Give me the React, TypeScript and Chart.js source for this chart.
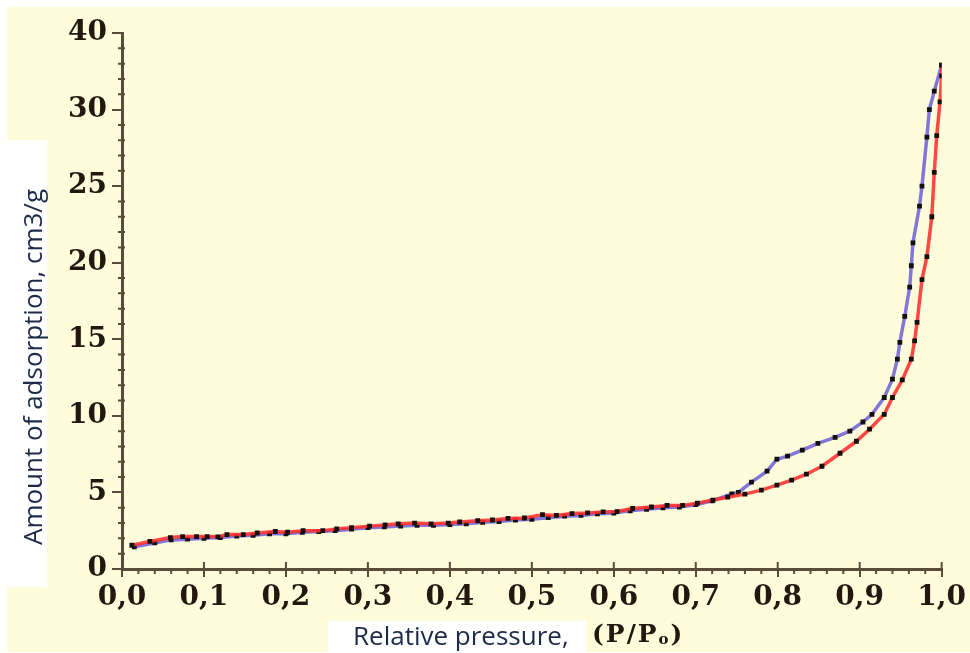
import React, { useEffect, useRef } from "react";
import { Chart, registerables } from "chart.js";

Chart.register(...registerables);

// ---- data ----
const xTickLabels = ["0,0", "0,1", "0,2", "0,3", "0,4", "0,5", "0,6", "0,7", "0,8", "0,9", "1,0"];
const yTickLabels = ["0", "5", "10", "15", "20", "25", "30", "40"];

// Adsorption branch (red)
const adsP = [
  0.012, 0.034, 0.059, 0.074, 0.091, 0.104, 0.117, 0.128, 0.148, 0.165, 0.187, 0.202, 0.221, 0.245,
  0.262, 0.28, 0.302, 0.321, 0.337, 0.357, 0.377, 0.398, 0.412, 0.434, 0.452, 0.471, 0.491, 0.513,
  0.53, 0.549, 0.568, 0.587, 0.604, 0.623, 0.646, 0.665, 0.684, 0.702, 0.721, 0.739, 0.76, 0.78,
  0.799, 0.817, 0.835, 0.854, 0.876, 0.896, 0.912, 0.93, 0.94, 0.952, 0.963, 0.967, 0.97, 0.976,
  0.982, 0.988, 0.991, 0.994, 0.998, 1.0, 1.0,
];
const adsV = [
  1.55, 1.8, 2.05, 2.12, 2.12, 2.12, 2.1, 2.25, 2.25, 2.35, 2.45, 2.4, 2.5, 2.5,
  2.62, 2.7, 2.8, 2.88, 2.95, 3.0, 2.95, 3.0, 3.07, 3.15, 3.2, 3.3, 3.33, 3.55,
  3.5, 3.62, 3.66, 3.73, 3.75, 3.95, 4.05, 4.15, 4.15, 4.3, 4.5, 4.69, 4.89, 5.15,
  5.48, 5.8, 6.19, 6.71, 7.56, 8.34, 9.13, 10.1, 11.2, 12.35, 13.7, 14.9, 16.1, 18.9,
  20.4, 23.0, 25.9, 28.3, 30.5, 32.2, 32.9,
];

// Desorption branch (blue)
const desP = [
  1.0, 0.991, 0.985, 0.982, 0.976, 0.973, 0.965, 0.963, 0.961, 0.955, 0.949, 0.946, 0.94, 0.93,
  0.915, 0.904, 0.888, 0.87, 0.849, 0.83, 0.812, 0.799, 0.787, 0.768, 0.752, 0.744, 0.72, 0.7,
  0.68, 0.66, 0.64, 0.62, 0.6, 0.58, 0.56, 0.54, 0.52, 0.5, 0.48, 0.46, 0.44, 0.42, 0.4, 0.38,
  0.36, 0.34, 0.32, 0.3, 0.28, 0.26, 0.24, 0.22, 0.2, 0.18, 0.16, 0.14, 0.12, 0.1, 0.08, 0.06,
  0.04, 0.015,
];
const desV = [
  32.9, 31.2, 30.0, 28.2, 25.0, 23.7, 21.3, 19.8, 18.4, 16.5, 14.8, 13.7, 12.4, 11.2,
  10.1, 9.6, 9.0, 8.6, 8.2, 7.76, 7.37, 7.17, 6.39, 5.67, 5.0, 4.9, 4.45, 4.2,
  4.05, 4.0, 3.9, 3.8, 3.65, 3.6, 3.5, 3.45, 3.35, 3.25, 3.2, 3.1, 3.05, 2.95, 2.9, 2.85,
  2.85, 2.8, 2.75, 2.7, 2.6, 2.5, 2.45, 2.4, 2.3, 2.3, 2.2, 2.15, 2.05, 2.0, 1.95, 1.9,
  1.7, 1.45,
];

const AXIS_COLOR = "#5b4b3b";
const LABEL_COLOR = "#24170f";

const minorTicks = {
  id: "minorTicks",
  afterDraw(chart: any) {
    const { ctx } = chart;
    const x = chart.scales.x;
    const y = chart.scales.y;
    const yAxisPx = y.getPixelForValue(0);
    const xAxisPx = x.getPixelForValue(0);
    ctx.save();
    ctx.strokeStyle = AXIS_COLOR;
    ctx.lineWidth = 2;
    ctx.beginPath();
    for (let i = 1; i <= 50; i++) {
      const px = x.getPixelForValue(i * 0.02);
      if (i % 5 === 0) {
        ctx.moveTo(px, yAxisPx - 7);
        ctx.lineTo(px, yAxisPx);
      } else {
        ctx.moveTo(px, yAxisPx - 1);
        ctx.lineTo(px, yAxisPx + 5);
      }
    }
    for (let v = 1; v <= 35; v++) {
      if (v % 5 === 0) continue;
      const py = y.getPixelForValue(v);
      ctx.moveTo(xAxisPx - 4, py);
      ctx.lineTo(xAxisPx + 3, py);
    }
    ctx.stroke();
    ctx.restore();
  },
};

export default function App() {
  const canvasRef = useRef<HTMLCanvasElement | null>(null);

  useEffect(() => {
    document.body.style.margin = "0";
    const canvas = canvasRef.current;
    if (!canvas) return;
    const ads = adsP.map((p, i) => ({ x: p, y: adsV[i] }));
    const des = desP.map((p, i) => ({ x: p, y: desV[i] }));
    const chart = new Chart(canvas, {
      type: "scatter",
      data: {
        datasets: [
          {
            label: "Adsorption",
            data: ads,
            showLine: true,
            borderColor: "rgba(255,45,45,0.88)",
            borderWidth: 3.5,
            pointStyle: "rect",
            pointRadius: 3.4,
            pointBackgroundColor: "#151010",
            pointBorderColor: "#151010",
            pointBorderWidth: 0,
            tension: 0,
          },
          {
            label: "Desorption",
            data: des,
            showLine: true,
            borderColor: "rgba(110,100,215,0.88)",
            borderWidth: 3.5,
            pointStyle: "rect",
            pointRadius: 3.4,
            pointBackgroundColor: "#151010",
            pointBorderColor: "#151010",
            pointBorderWidth: 0,
            tension: 0,
          },
        ],
      },
      options: {
        responsive: false,
        animation: false,
        devicePixelRatio: 1,
        layout: { padding: { left: 0, right: 27, top: 33, bottom: 0 } },
        plugins: {
          legend: { display: false },
          tooltip: { enabled: false },
          title: { display: false },
        },
        scales: {
          x: {
            type: "linear",
            min: 0,
            max: 1,
            afterFit: (s: any) => {
              s.height = 84;
            },
            border: { color: AXIS_COLOR, width: 3 },
            grid: {
              drawOnChartArea: false,
              color: AXIS_COLOR,
              lineWidth: 2,
              tickLength: 8,
            },
            ticks: {
              stepSize: 0.1,
              padding: 4,
              color: LABEL_COLOR,
              font: { family: "'DejaVu Serif', serif", size: 28, weight: "bold" },
              callback: (v: any) => xTickLabels[Math.round(Number(v) * 10)],
              maxRotation: 0,
              autoSkip: false,
            },
          },
          y: {
            type: "linear",
            min: 0,
            max: 35,
            afterFit: (s: any) => {
              s.width = 122;
            },
            border: { color: AXIS_COLOR, width: 3 },
            grid: {
              drawOnChartArea: false,
              color: AXIS_COLOR,
              lineWidth: 2,
              tickLength: 10,
            },
            ticks: {
              stepSize: 5,
              padding: 5,
              color: LABEL_COLOR,
              font: { family: "'DejaVu Serif', serif", size: 28, weight: "bold" },
              callback: (v: any) => yTickLabels[Math.round(Number(v) / 5)],
              autoSkip: false,
            },
          },
        },
      },
      plugins: [minorTicks],
    });
    return () => chart.destroy();
  }, []);

  return (
    <div style={{ position: "relative", width: 970, height: 653, background: "#ffffff", overflow: "hidden" }}>
      <div style={{ position: "absolute", left: 7, top: 7, width: 963, height: 645, background: "#fffcdc" }} />
      <canvas ref={canvasRef} width={970} height={653} style={{ position: "absolute", left: 0, top: 0 }} />
      <div
        style={{
          position: "absolute",
          left: 7,
          top: 140,
          width: 40,
          height: 447,
          background: "#ffffff",
        }}
      />
      <div
        style={{
          position: "absolute",
          left: 32,
          top: 367,
          transform: "translate(-50%, -50%) rotate(-90deg)",
          whiteSpace: "nowrap",
          fontFamily: "'Open Sans', sans-serif",
          fontSize: 26,
          color: "#1c2b48",
          lineHeight: 1,
        }}
      >
        Amount of adsorption, cm3/g
      </div>
      <div
        style={{
          position: "absolute",
          left: 328,
          top: 621,
          width: 258,
          height: 32,
          background: "#ffffff",
        }}
      />
      <div
        style={{
          position: "absolute",
          left: 353,
          top: 620,
          whiteSpace: "nowrap",
          fontFamily: "'Open Sans', sans-serif",
          fontSize: 26,
          color: "#1c2b48",
          lineHeight: "30px",
        }}
      >
        Relative pressure,
      </div>
      <div
        style={{
          position: "absolute",
          left: 592,
          top: 619,
          whiteSpace: "nowrap",
          fontFamily: "'DejaVu Serif', serif",
          fontWeight: "bold",
          fontSize: 25,
          letterSpacing: 2,
          color: LABEL_COLOR,
          lineHeight: "30px",
        }}
      >
        (P/P<sub style={{ fontSize: 15, verticalAlign: "-2px" }}>o</sub>)
      </div>
    </div>
  );
}
